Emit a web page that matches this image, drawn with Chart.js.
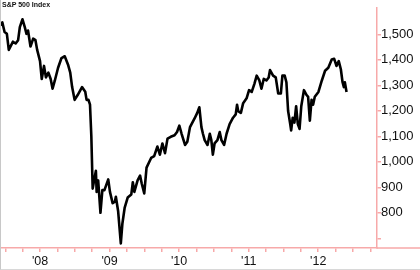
<!DOCTYPE html>
<html>
<head>
<meta charset="utf-8">
<script src="https://cdn.jsdelivr.net/npm/chart.js@4/dist/chart.umd.min.js"></script>
<style>
  html, body { margin: 0; padding: 0; background: #fff; }
  #wrap { position: relative; width: 420px; height: 270px; overflow: hidden; }
  #frame { position: absolute; left: 0; top: 0; width: 419px; height: 269px;
    border-left: 1px solid #c8c8c8; border-bottom: 1px solid #d8d8d8; pointer-events: none; }
  #title { position: absolute; left: 2px; top: 1px; font: bold 7px "Liberation Sans", Arial, sans-serif;
    color: #111; white-space: nowrap; }
</style>
</head>
<body>
<div id="wrap">
  <canvas id="c" width="420" height="270"></canvas>
  <div id="title">S&amp;P 500 Index</div>
  <div id="frame"></div>
</div>
<script>
// S&P 500 closes, mid-2007 to mid-2012
const dates = [
  '2007-06-07','2007-06-17','2007-06-29','2007-07-11','2007-07-21','2007-08-12','2007-08-26','2007-09-08',
  '2007-09-17','2007-10-01','2007-10-13','2007-10-22','2007-10-30','2007-11-12','2007-11-26','2007-12-08',
  '2007-12-17','2008-01-01','2008-01-10','2008-01-22','2008-02-01','2008-02-14','2008-02-26','2008-03-07',
  '2008-03-19','2008-04-05','2008-04-23','2008-05-10','2008-05-27','2008-06-08','2008-06-18','2008-07-01',
  '2008-07-17','2008-08-09','2008-08-26','2008-09-02','2008-09-12','2008-09-20','2008-09-27','2008-10-04',
  '2008-10-21','2008-10-25','2008-11-02','2008-11-14','2008-11-24','2008-12-05','2008-12-25','2009-01-03',
  '2009-01-17','2009-01-29','2009-02-03','2009-02-15','2009-03-01','2009-03-09','2009-03-21','2009-04-06',
  '2009-04-25','2009-05-03','2009-05-11','2009-05-28','2009-06-10','2009-06-19','2009-07-02','2009-07-14',
  '2009-08-07','2009-08-23','2009-09-09','2009-09-22','2009-10-05','2009-10-19','2009-11-01','2009-11-18',
  '2009-12-08','2009-12-21','2010-01-02','2010-01-14','2010-02-01','2010-02-13','2010-02-27','2010-03-23',
  '2010-04-06','2010-04-17','2010-04-28','2010-05-06','2010-05-15','2010-05-30','2010-06-11','2010-06-19',
  '2010-06-27','2010-07-06','2010-07-21','2010-08-02','2010-08-11','2010-08-25','2010-09-07','2010-09-23',
  '2010-10-11','2010-10-25','2010-11-01','2010-11-07','2010-11-21','2010-12-03','2010-12-21','2011-01-03',
  '2011-01-17','2011-01-31','2011-02-12','2011-02-26','2011-03-09','2011-03-21','2011-04-04','2011-04-16',
  '2011-04-23','2011-05-09','2011-05-23','2011-06-05','2011-06-19','2011-06-27','2011-07-09','2011-07-18',
  '2011-07-27','2011-08-07','2011-08-12','2011-08-20','2011-08-29','2011-09-07','2011-09-16','2011-09-25',
  '2011-10-04','2011-10-18','2011-11-01','2011-11-09','2011-11-18','2011-11-27','2011-12-05','2011-12-14',
  '2012-01-02','2012-01-20','2012-02-06','2012-02-23','2012-03-12','2012-03-25','2012-04-06','2012-04-18',
  '2012-04-29','2012-05-08','2012-05-15','2012-05-20','2012-05-29'
];
const closes = [
  1535,1547,1509,1502,1439,1471,1464,1477,
  1528,1559,1528,1502,1515,1452,1483,1477,
  1439,1395,1325,1376,1331,1350,1325,1287,
  1319,1369,1407,1414,1382,1350,1293,1243,
  1262,1293,1275,1243,1243,1224,1100,895,
  965,882,927,800,889,889,931,882,
  838,844,863,806,680,756,819,860,
  872,920,882,927,946,914,876,977,
  1015,1022,1060,1028,1072,1034,1091,1098,
  1104,1117,1142,1110,1066,1079,1136,1170,
  1192,1214,1136,1110,1085,1066,1110,1085,
  1028,1072,1085,1117,1085,1066,1110,1148,
  1173,1186,1224,1199,1192,1230,1249,1281,
  1274,1306,1338,1319,1287,1325,1319,1331,
  1360,1338,1331,1268,1268,1338,1338,1312,
  1199,1148,1123,1173,1154,1218,1148,1129,
  1218,1281,1262,1255,1161,1243,1224,1255,
  1274,1319,1357,1369,1401,1404,1376,1395,
  1363,1312,1293,1312,1274
];
const yTicks = [700, 800, 900, 1000, 1100, 1200, 1300, 1400, 1500];
const xTicks = [2007.5, 2007.75, 2008, 2008.25, 2008.5, 2008.75, 2009, 2009.25, 2009.5, 2009.75,
  2010, 2010.25, 2010.5, 2010.75, 2011, 2011.25, 2011.5, 2011.75, 2012, 2012.25, 2012.5, 2012.75];

const PINK = '#f7a9a9';

function decYear(s) {
  const [y, m, d] = s.split('-').map(Number);
  const start = Date.UTC(y, 0, 1), end = Date.UTC(y + 1, 0, 1);
  return y + (Date.UTC(y, m - 1, d) - start) / (end - start);
}

// bottom axis line keeps going past the price axis to the edge
const axisTail = {
  id: 'axisTail',
  afterDraw(chart) {
    const { ctx, chartArea: a } = chart;
    ctx.save();
    ctx.strokeStyle = PINK;
    ctx.lineWidth = 1.5;
    ctx.beginPath();
    ctx.moveTo(a.right, a.bottom);
    ctx.lineTo(chart.width, a.bottom);
    ctx.stroke();
    ctx.restore();
  }
};

new Chart(document.getElementById('c'), {
  type: 'line',
  data: {
    datasets: [{
      data: dates.map((d, i) => ({ x: decYear(d), y: closes[i] })),
      borderColor: '#000', borderWidth: 2.6, pointRadius: 0, tension: 0, fill: false,
      borderJoinStyle: 'round'
    }]
  },
  plugins: [axisTail],
  options: {
    responsive: false,
    animation: false,
    layout: { padding: 0 },
    plugins: { legend: { display: false }, tooltip: { enabled: false } },
    scales: {
      x: {
        type: 'linear', min: 2007.4245, max: 2012.845,
        afterBuildTicks: s => { s.ticks = xTicks.map(v => ({ value: v })); },
        afterFit: s => { s.height = 22; },
        grid: { drawOnChartArea: false, drawTicks: true, tickLength: 4, color: PINK, lineWidth: 1.5 },
        border: { display: true, color: PINK, width: 1.5 },
        ticks: {
          autoSkip: false, maxRotation: 0, padding: 2, color: '#111',
          font: { family: '"Liberation Sans", Arial, sans-serif', size: 12.5 },
          callback: v => Number.isInteger(v) ? "'" + String(v).slice(2) : ''
        }
      },
      y: {
        type: 'linear', position: 'right', min: 662, max: 1604,
        afterBuildTicks: s => { s.ticks = yTicks.map(v => ({ value: v })); },
        afterFit: s => { s.width = 43; },
        grid: { drawOnChartArea: false, drawTicks: true, tickLength: 4, color: PINK, lineWidth: 1.5 },
        border: { display: true, color: PINK, width: 1.5 },
        ticks: {
          padding: 0, color: '#111',
          font: { family: '"Liberation Sans", Arial, sans-serif', size: 13 },
          callback: v => v === 700 ? '' : v.toLocaleString('en-US')
        }
      }
    }
  }
});
</script>
</body>
</html>
